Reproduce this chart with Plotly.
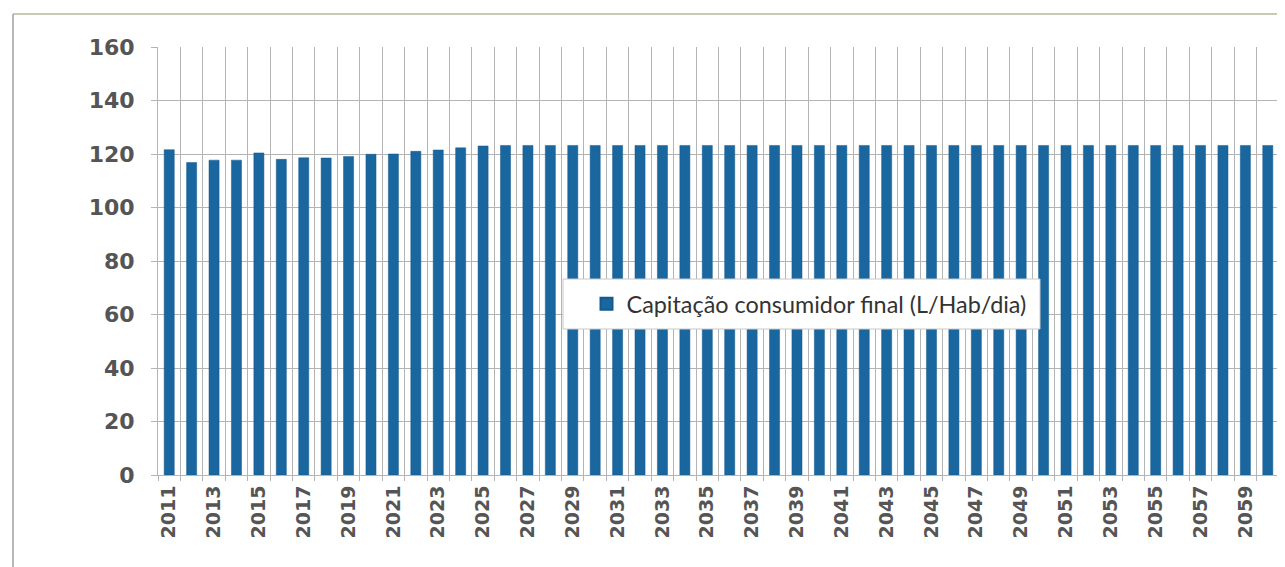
import plotly.graph_objects as go

years = list(range(2011, 2061))
capitacao = [121.6, 116.8, 117.7, 117.7, 120.4, 118.0, 118.6, 118.5, 119.1, 119.9,
             120.0, 121.0, 121.5, 122.3, 123.0, 123.2, 123.2, 123.2, 123.2, 123.2,
             123.2, 123.2, 123.2, 123.2, 123.2, 123.2, 123.2, 123.2, 123.2, 123.2,
             123.2, 123.2, 123.2, 123.2, 123.2, 123.2, 123.2, 123.2, 123.2, 123.2,
             123.2, 123.2, 123.2, 123.2, 123.2, 123.2, 123.2, 123.2, 123.2, 123.2]
tick_years = list(range(2011, 2060, 2))
series_name = "Capitação consumidor final (L/Hab/dia)"

# page body has an 8px margin, so the figure starts at screen (8, 8)
OFF = 8
W, H = 1285 - OFF, 567 - OFF
L, R, T, B = 158 - OFF, 6, 47 - OFF, 92
pw, ph = W - L - R, H - T - B

def px(xs):
    return (xs - OFF - L) / pw

def py(ys):
    return (H - B - (ys - OFF)) / ph

fig = go.Figure()
fig.add_trace(go.Bar(
    x=years, y=capitacao, name=series_name,
    marker=dict(color="#1a669f", line=dict(color="#145a8c", width=0.5)),
    showlegend=True,
))

grid = "#b4b4b4"
fig.update_layout(
    width=W, height=H,
    margin=dict(l=L, r=R, t=T, b=B, autoexpand=False),
    paper_bgcolor="white", plot_bgcolor="white",
    bargap=0.55,
    showlegend=True,
    legend=dict(
        x=px(809), y=py(304), xanchor="center", yanchor="middle",
        bgcolor="rgba(0,0,0,0)", borderwidth=0,
        font=dict(family="Lato", size=23.4, color="#333333"),
        itemsizing="constant", itemwidth=30,
    ),
    xaxis=dict(
        range=[2010.5, 2060.5],
        tickmode="array", tickvals=tick_years, ticktext=[str(y) for y in tick_years],
        tickangle=-90,
        tickfont=dict(family="DejaVu Sans", size=19, color="#555555", weight="bold"),
        showgrid=False, ticks="", ticklabelstandoff=2,
        showline=True, linecolor=grid, linewidth=1,
        minor=dict(tick0=2010.5, dtick=1, showgrid=True, gridcolor=grid, gridwidth=1,
                   ticks="outside", ticklen=5, tickcolor=grid),
        zeroline=False, automargin=False,
    ),
    yaxis=dict(
        range=[0, 160], dtick=20, tick0=0,
        tickfont=dict(family="DejaVu Sans", size=22, color="#555555", weight="bold"),
        showgrid=True, gridcolor=grid, gridwidth=1,
        ticks="outside", ticklen=6, tickcolor=grid, ticklabelstandoff=12,
        showline=True, linecolor=grid, linewidth=1,
        zeroline=False, automargin=False,
    ),
    shapes=[
        dict(type="rect", xref="paper", yref="paper",
             x0=px(563), x1=px(1040), y0=py(329), y1=py(279),
             fillcolor="white", line=dict(color="#c8c8c8", width=1), layer="above"),
        dict(type="line", xref="paper", yref="paper",
             x0=px(13), x1=px(1295), y0=py(14), y1=py(14),
             line=dict(color="#b9b89a", width=1.5)),
        dict(type="line", xref="paper", yref="paper",
             x0=px(13), x1=px(13), y0=py(14), y1=py(580),
             line=dict(color="#a0a0a0", width=1.5)),
    ],
)

fig.write_html("out.html")
